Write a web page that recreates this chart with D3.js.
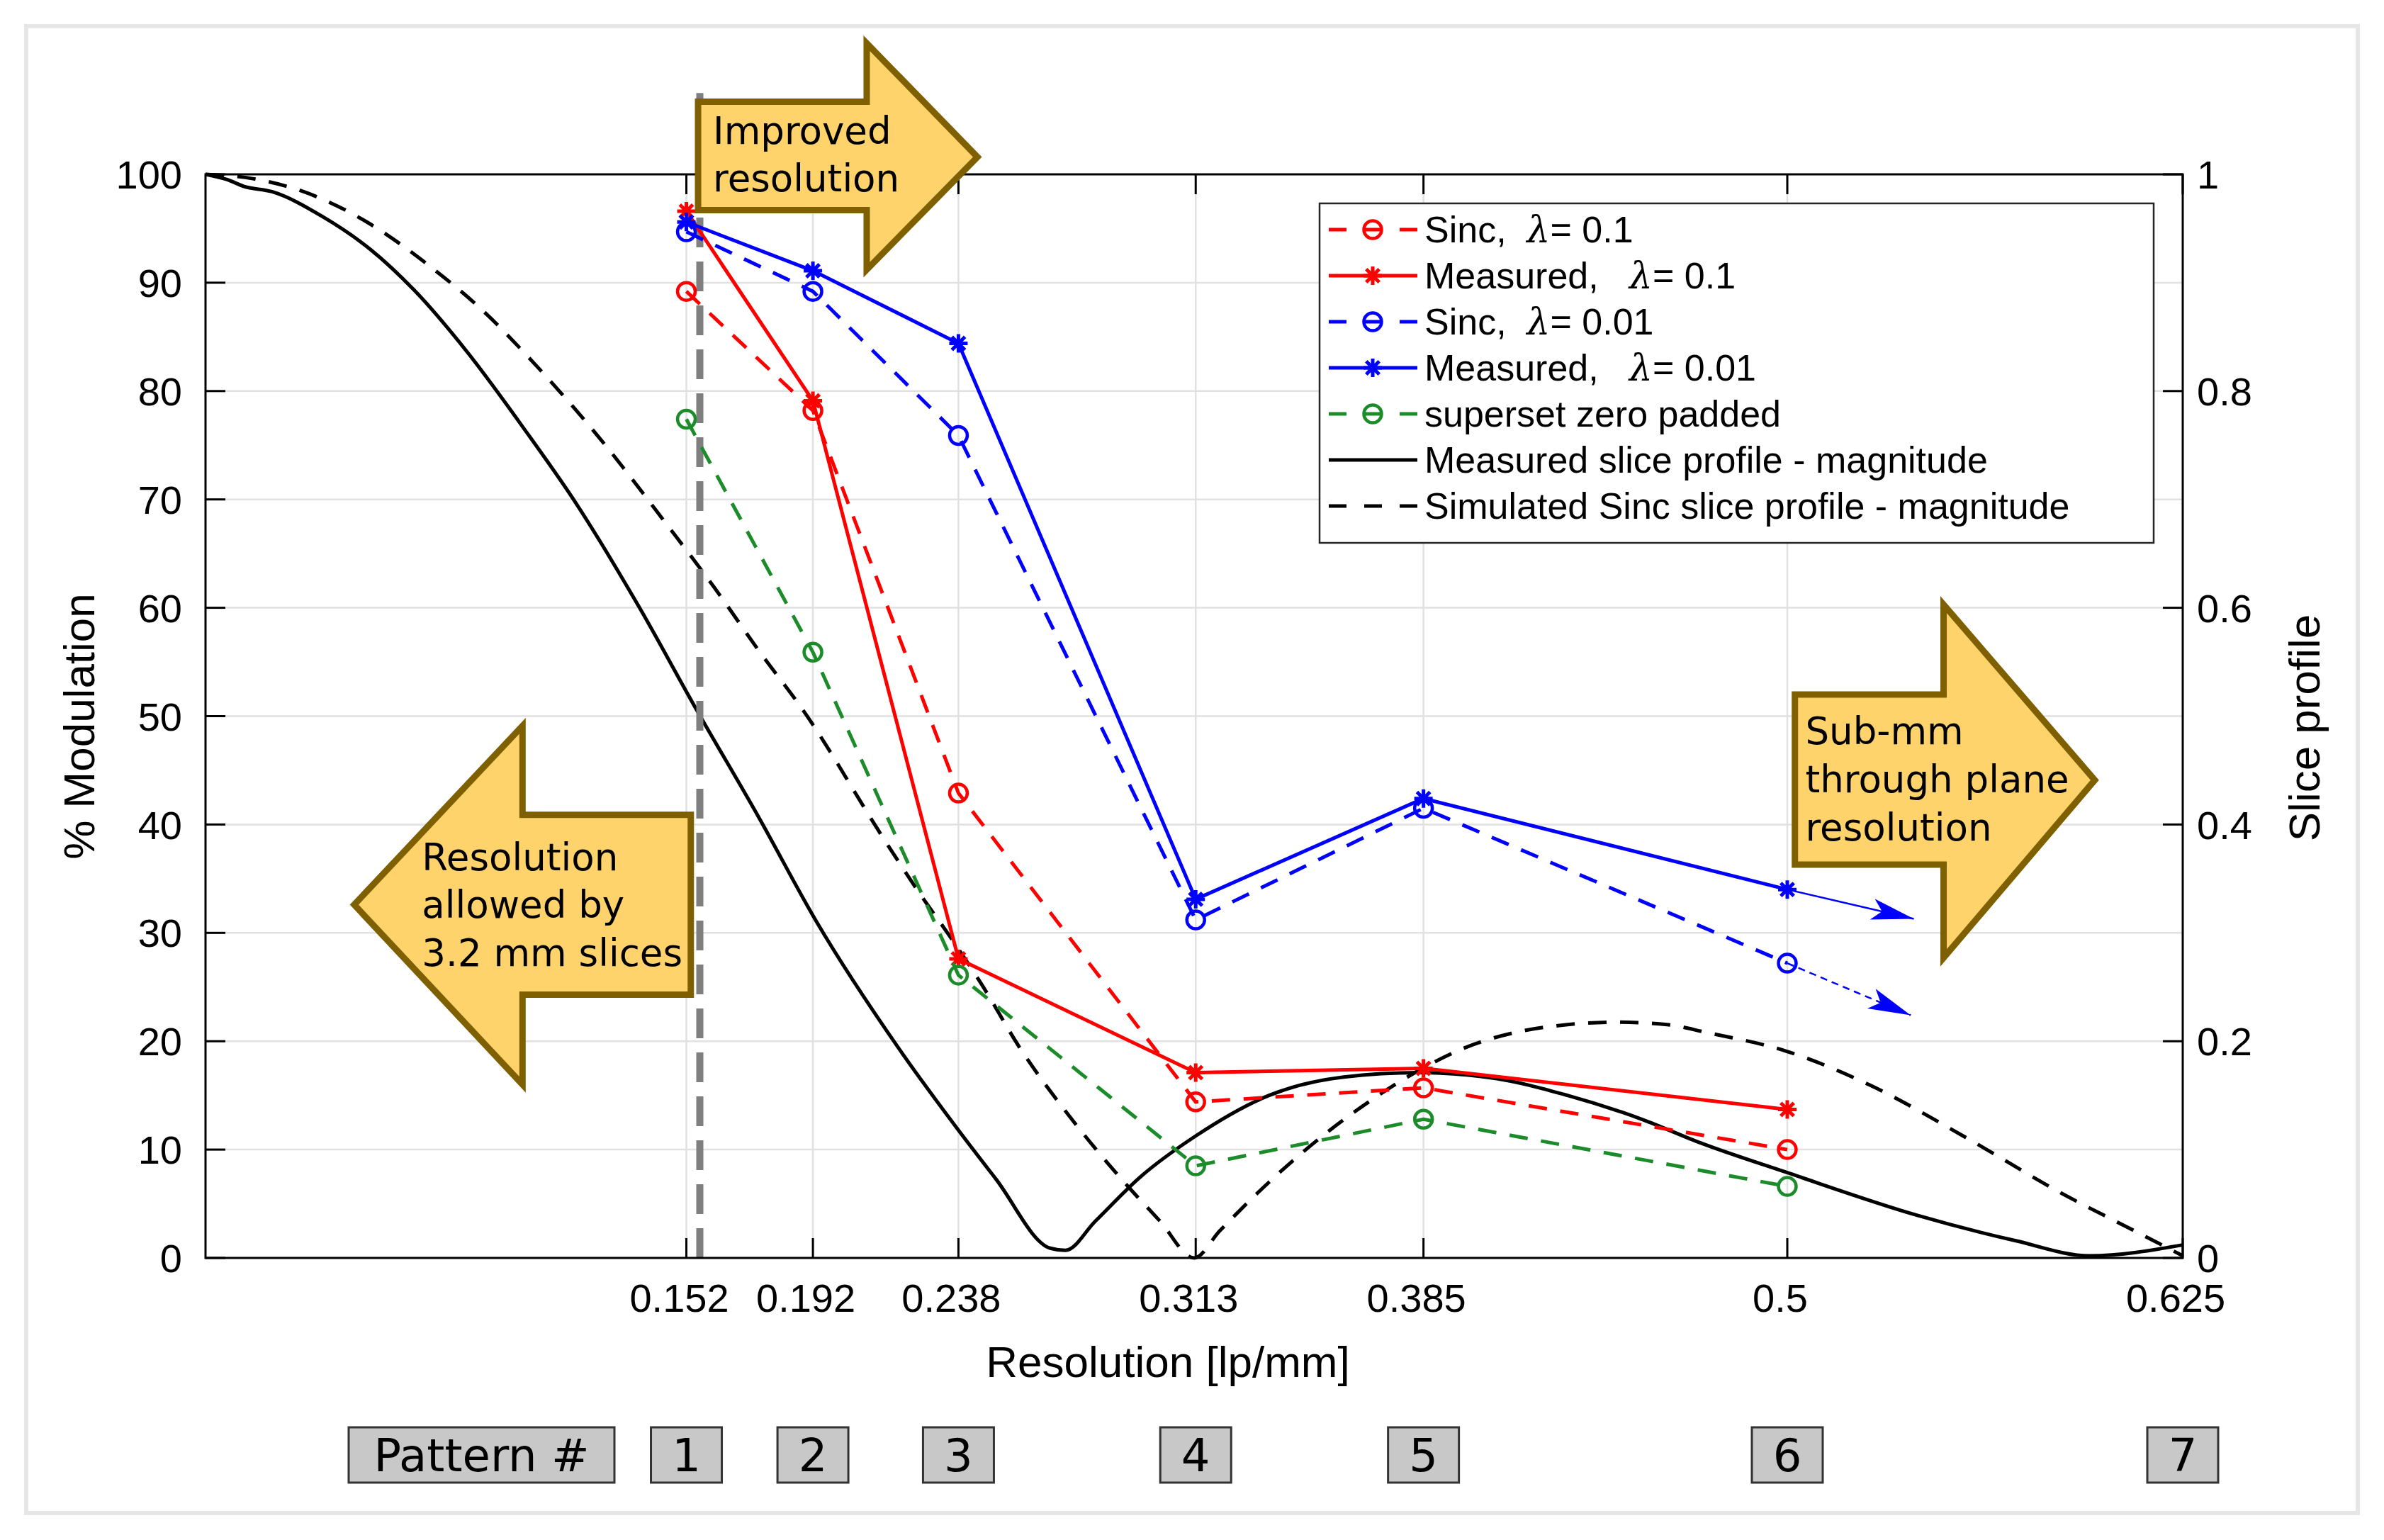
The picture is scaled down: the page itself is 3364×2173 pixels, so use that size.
<!DOCTYPE html>
<html lang="en">
<head>
    <meta charset="UTF-8">
    <title>Modulation vs resolution</title>
    <script src="https://d3js.org/d3.v7.min.js"></script>
    <style>
        body { margin: 0; background: #fff; }
        text { font-family: "Liberation Sans", Arial, sans-serif; }
        .note { font-family: "DejaVu Sans", Verdana, sans-serif; }
    </style>
</head>
<body>
    <svg id="chart" width="3364" height="2173"></svg>

    <script>
        // resolution ticks / pattern positions (lp/mm)
        const resTicks = [0.152, 0.192, 0.238, 0.313, 0.385, 0.5, 0.625];
        const patternNums = ['1', '2', '3', '4', '5', '6', '7'];
        const resPoints = [0.152, 0.192, 0.238, 0.313, 0.385, 0.5];
        const leftTicks = [0, 10, 20, 30, 40, 50, 60, 70, 80, 90, 100];
        const rightTicks = [0, 0.2, 0.4, 0.6, 0.8, 1];

        // % modulation series
        const sincL01 = [89.2, 78.2, 42.9, 14.4, 15.7, 10.0];
        const measL01 = [96.6, 79.1, 27.6, 17.1, 17.5, 13.7];
        const sincL001 = [94.7, 89.2, 75.9, 31.2, 41.5, 27.2];
        const measL001 = [95.6, 91.1, 84.4, 33.1, 42.4, 34.0];
        const superset = [77.4, 55.9, 26.1, 8.5, 12.8, 6.6];

        // slice profiles (right axis)
        const measProfX = [0, 0.007, 0.012, 0.021, 0.037, 0.052, 0.066, 0.083, 0.101, 0.117, 0.137, 0.155, 0.175, 0.193,
            0.219, 0.2372, 0.2498, 0.267, 0.2718, 0.2813, 0.2954, 0.3127, 0.3362, 0.3598, 0.3834, 0.407, 0.4305,
            0.454, 0.4727, 0.4997, 0.5415, 0.572, 0.5955, 0.625];
        const measProfY = [1.0, 0.995, 0.989, 0.984, 0.961, 0.931, 0.893, 0.835, 0.764, 0.697, 0.601, 0.507, 0.406, 0.311,
            0.194, 0.121, 0.073, 0.009, 0.007, 0.034, 0.0745, 0.112, 0.150, 0.167, 0.171, 0.166, 0.150,
            0.128, 0.106, 0.079, 0.039, 0.016, 0.002, 0.012];
        const simProfX = [0, 0.015, 0.031, 0.051, 0.071, 0.087, 0.105, 0.125, 0.145, 0.161, 0.175, 0.189, 0.215, 0.2263,
            0.235, 0.245, 0.2576, 0.2733, 0.289, 0.3017, 0.3125, 0.3206, 0.3362, 0.352, 0.3676, 0.3834, 0.399,
            0.4148, 0.4305, 0.446, 0.462, 0.4746, 0.4997, 0.5262, 0.5567, 0.587, 0.6099, 0.625];
        const simProfY = [1.0, 0.996, 0.984, 0.956, 0.915, 0.876, 0.822, 0.755, 0.680, 0.618, 0.560, 0.505, 0.384, 0.334,
            0.298, 0.254, 0.193, 0.130, 0.0745, 0.034, 0.0, 0.025, 0.070, 0.110, 0.1438, 0.1728, 0.195,
            0.2086, 0.2153, 0.2176, 0.2153, 0.208, 0.1908, 0.1594, 0.1107, 0.0592, 0.0248, 0.002];

        // trend arrows after pattern 6 (blue)
        const trendX0 = [0.5, 0.5], trendY0 = [34.0, 27.2];
        const trendX1 = [0.540, 0.539], trendY1 = [31.3, 22.4];

        // block arrow outlines (x in lp/mm, y in %)
        const improvedArrowX = [0.1557, 0.209, 0.209, 0.244, 0.209, 0.209, 0.1557];
        const improvedArrowY = [106.7, 106.7, 112.1, 101.6, 91.2, 96.7, 96.7];
        const allowedArrowX = [0.1534, 0.1002, 0.1002, 0.0470, 0.1002, 0.1002, 0.1534];
        const allowedArrowY = [40.9, 40.9, 49.1, 32.6, 16.0, 24.3, 24.3];
        const submmArrowX = [0.5024, 0.5494, 0.5494, 0.5972, 0.5494, 0.5494, 0.5024];
        const submmArrowY = [52.0, 52.0, 60.3, 44.1, 27.7, 36.3, 36.3];

        const sliceLimit = 0.15625; // 1 / (2 * 3.2 mm)

        const svg = d3.select('#chart');
        const W = +svg.attr('width'), H = +svg.attr('height');
        const margin = { top: 246, right: 284, bottom: 398, left: 290 };
        const plotW = W - margin.left - margin.right;
        const plotH = H - margin.top - margin.bottom;

        const x = d3.scaleLinear().domain([0, 0.625]).range([margin.left, margin.left + plotW]);
        const yL = d3.scaleLinear().domain([0, 100]).range([margin.top + plotH, margin.top]);
        const yR = d3.scaleLinear().domain([0, 1]).range([margin.top + plotH, margin.top]);

        svg.append('rect').attr('width', W).attr('height', H).attr('fill', '#fff');
        // outer frame
        svg.append('rect')
            .attr('x', 37).attr('y', 37).attr('width', 3290).attr('height', 2098)
            .attr('fill', 'none').attr('stroke', '#e6e6e6').attr('stroke-width', 6);

        // grid
        const grid = svg.append('g').attr('stroke', '#e1e1e1').attr('stroke-width', 2.5);
        grid.selectAll('.gy').data(leftTicks.slice(1, -1)).enter().append('line')
            .attr('x1', x(0)).attr('x2', x(0.625))
            .attr('y1', d => yL(d)).attr('y2', d => yL(d));
        grid.selectAll('.gx').data(resTicks.slice(0, -1)).enter().append('line')
            .attr('x1', d => x(d)).attr('x2', d => x(d))
            .attr('y1', yL(0)).attr('y2', yL(100));

        // slice profiles
        const profLine = d3.line().x(d => x(d[0])).y(d => yR(d[1])).curve(d3.curveMonotoneX);
        svg.append('path')
            .attr('d', profLine(measProfX.map((v, i) => [v, measProfY[i]])))
            .attr('fill', 'none').attr('stroke', '#000').attr('stroke-width', 5)
            .attr('stroke-linejoin', 'round');
        svg.append('path')
            .attr('d', profLine(simProfX.map((v, i) => [v, simProfY[i]])))
            .attr('fill', 'none').attr('stroke', '#000').attr('stroke-width', 5)
            .attr('stroke-dasharray', '26,19');

        // 3.2 mm slice limit
        svg.append('line')
            .attr('x1', x(sliceLimit)).attr('x2', x(sliceLimit))
            .attr('y1', yL(0)).attr('y2', yL(107.5))
            .attr('stroke', '#7f7f7f').attr('stroke-width', 10)
            .attr('stroke-dasharray', '42,20');

        const series = [
            { label: ['Sinc,  ', '= 0.1'], vals: sincL01, color: '#ff0000', dash: '26,19', marker: 'o' },
            { label: ['Measured,   ', '= 0.1'], vals: measL01, color: '#ff0000', dash: null, marker: '*' },
            { label: ['Sinc,  ', '= 0.01'], vals: sincL001, color: '#0000ff', dash: '26,19', marker: 'o' },
            { label: ['Measured,   ', '= 0.01'], vals: measL001, color: '#0000ff', dash: null, marker: '*' },
            { label: ['superset zero padded'], vals: superset, color: '#1c8c2b', dash: '26,19', marker: 'o' }
        ];

        const star = 'M-13,0H13M0,-13V13M-9.2,-9.2L9.2,9.2M-9.2,9.2L9.2,-9.2';
        function drawMarker(g, type, color) {
            if (type === 'o') {
                g.append('circle').attr('r', 12.5).attr('fill', 'none')
                    .attr('stroke', color).attr('stroke-width', 4.5);
            } else {
                g.append('path').attr('d', star).attr('fill', 'none')
                    .attr('stroke', color).attr('stroke-width', 5);
            }
        }

        const line = d3.line().x(d => x(d[0])).y(d => yL(d[1]));
        series.forEach(s => {
            const pts = resPoints.map((v, i) => [v, s.vals[i]]);
            svg.append('path').attr('d', line(pts))
                .attr('fill', 'none').attr('stroke', s.color).attr('stroke-width', 5)
                .attr('stroke-dasharray', s.dash);
            pts.forEach(p => {
                const g = svg.append('g').attr('transform', `translate(${x(p[0])},${yL(p[1])})`);
                drawMarker(g, s.marker, s.color);
            });
        });

        // blue trend arrows
        svg.append('defs').append('marker')
            .attr('id', 'head').attr('markerUnits', 'userSpaceOnUse')
            .attr('viewBox', '0 -17 62 34').attr('refX', 60).attr('refY', 0)
            .attr('markerWidth', 62).attr('markerHeight', 34).attr('orient', 'auto')
            .append('path').attr('d', 'M60,0L0,-15L14,0L0,15Z').attr('fill', '#0000ff');
        trendX0.forEach((v, i) => {
            svg.append('line')
                .attr('x1', x(v)).attr('y1', yL(trendY0[i]))
                .attr('x2', x(trendX1[i])).attr('y2', yL(trendY1[i]))
                .attr('stroke', '#0000ff').attr('stroke-width', 2.5)
                .attr('stroke-dasharray', i === 1 ? '10,7' : null)
                .attr('marker-end', 'url(#head)');
        });

        // axes box
        const axes = svg.append('g').attr('stroke', '#000').attr('stroke-width', 3).attr('fill', 'none');
        axes.append('rect').attr('x', x(0)).attr('y', yL(100))
            .attr('width', plotW).attr('height', plotH);
        // left ticks
        axes.selectAll('.tl').data(leftTicks).enter().append('line')
            .attr('x1', x(0)).attr('x2', x(0) + 28).attr('y1', d => yL(d)).attr('y2', d => yL(d));
        // right ticks
        axes.selectAll('.tr').data(rightTicks).enter().append('line')
            .attr('x1', x(0.625)).attr('x2', x(0.625) - 28).attr('y1', d => yR(d)).attr('y2', d => yR(d));
        // bottom & top ticks
        axes.selectAll('.tb').data(resTicks).enter().append('line')
            .attr('x1', d => x(d)).attr('x2', d => x(d)).attr('y1', yL(0)).attr('y2', yL(0) - 28);
        axes.selectAll('.tt').data(resTicks).enter().append('line')
            .attr('x1', d => x(d)).attr('x2', d => x(d)).attr('y1', yL(100)).attr('y2', yL(100) + 28);

        // tick labels
        svg.selectAll('.ll').data(leftTicks).enter().append('text')
            .attr('x', x(0) - 33).attr('y', d => yL(d)).attr('dy', '0.36em')
            .attr('text-anchor', 'end').attr('font-size', 56).text(d => d);
        svg.selectAll('.rl').data(rightTicks).enter().append('text')
            .attr('x', x(0.625) + 20).attr('y', d => yR(d)).attr('dy', '0.36em')
            .attr('text-anchor', 'start').attr('font-size', 56).text(d => d3.format('~g')(d));
        svg.selectAll('.bl').data(resTicks).enter().append('text')
            .attr('x', d => x(d) - 10).attr('y', yL(0) + 76)
            .attr('text-anchor', 'middle').attr('font-size', 56).text(d => d);

        // axis titles
        svg.append('text').attr('x', 1648).attr('y', 1943)
            .attr('text-anchor', 'middle').attr('font-size', 62).text('Resolution [lp/mm]');
        svg.append('text').attr('transform', 'translate(133,1025) rotate(-90)')
            .attr('text-anchor', 'middle').attr('font-size', 62).text('% Modulation');
        svg.append('text').attr('transform', 'translate(3273,1027) rotate(-90)')
            .attr('text-anchor', 'middle').attr('font-size', 62).text('Slice profile');

        // block arrows with notes (drawn over the axes box)
        const blockLine = d3.line().x(d => x(d[0])).y(d => yL(d[1]));
        function blockArrow(xs, ys, lines, tx, ty, step) {
            svg.append('path')
                .attr('d', blockLine(xs.map((v, i) => [v, ys[i]])) + 'Z')
                .attr('fill', '#ffd36b').attr('stroke', '#7f6000').attr('stroke-width', 9)
                .attr('stroke-linejoin', 'miter');
            lines.forEach((t, i) => {
                svg.append('text').attr('class', 'note')
                    .attr('x', x(tx)).attr('y', yL(ty) + i * step)
                    .attr('font-size', 53).attr('fill', '#000')
                    .text(t);
            });
        }
        blockArrow(improvedArrowX, improvedArrowY, ['Improved', 'resolution'], 0.1604, 102.8, 67);
        blockArrow(allowedArrowX, allowedArrowY, ['Resolution', 'allowed by', '3.2 mm slices'], 0.0684, 35.8, 67.5);
        blockArrow(submmArrowX, submmArrowY, ['Sub-mm', 'through plane', 'resolution'], 0.5057, 47.4, 68);

        // legend
        const legendItems = series.map(s => ({ label: s.label, color: s.color, dash: s.dash, marker: s.marker }))
            .concat([
                { label: ['Measured slice profile - magnitude'], color: '#000', dash: null, marker: null },
                { label: ['Simulated Sinc slice profile - magnitude'], color: '#000', dash: '25,25', marker: null }
            ]);
        const legend = svg.append('g');
        legend.append('rect').attr('x', 1862).attr('y', 287).attr('width', 1177).attr('height', 479)
            .attr('fill', '#fff').attr('stroke', '#262626').attr('stroke-width', 2.5);
        legendItems.forEach((d, i) => {
            const cy = 324 + i * 65;
            const g = legend.append('g');
            g.append('line').attr('x1', 1875).attr('x2', 2000).attr('y1', cy).attr('y2', cy)
                .attr('stroke', d.color).attr('stroke-width', 5)
                .attr('stroke-dasharray', d.dash ? '25,25' : null);
            if (d.marker) {
                drawMarker(g.append('g').attr('transform', `translate(1937,${cy})`), d.marker, d.color);
            }
            const t = g.append('text').attr('x', 2010).attr('y', cy + 18)
                .attr('font-size', 52).style('white-space', 'pre');
            t.append('tspan').text(d.label[0]);
            if (d.label.length > 1) {
                t.append('tspan').attr('font-style', 'italic')
                    .attr('font-family', '"DejaVu Serif", serif').text('λ');
                t.append('tspan').text(d.label[1]);
            }
        });

        // pattern number boxes
        const boxes = svg.append('g');
        boxes.append('rect').attr('x', 492).attr('y', 2014).attr('width', 375).attr('height', 78)
            .attr('fill', '#c8c8c8').attr('stroke', '#333').attr('stroke-width', 3);
        boxes.append('text').attr('class', 'note').attr('x', 679.5).attr('y', 2053).attr('dy', '0.36em')
            .attr('text-anchor', 'middle').attr('font-size', 64).text('Pattern #');
        resTicks.forEach((v, i) => {
            boxes.append('rect').attr('x', x(v) - 50).attr('y', 2014).attr('width', 100).attr('height', 78)
                .attr('fill', '#c8c8c8').attr('stroke', '#333').attr('stroke-width', 3);
            boxes.append('text').attr('class', 'note').attr('x', x(v)).attr('y', 2053).attr('dy', '0.36em')
                .attr('text-anchor', 'middle').attr('font-size', 64).text(patternNums[i]);
        });
    </script>
</body>
</html>
